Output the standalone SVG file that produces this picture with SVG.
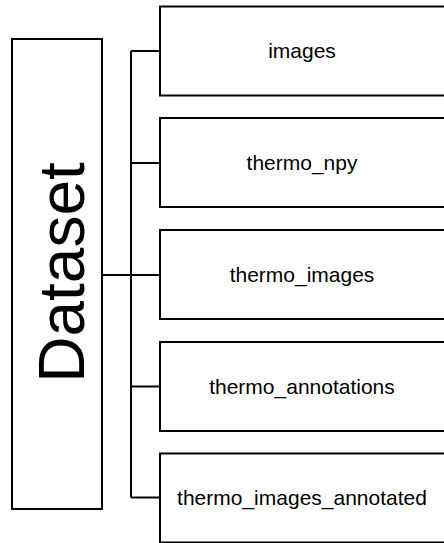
<svg xmlns="http://www.w3.org/2000/svg" width="444" height="543" viewBox="0 0 444 543">
  <style>
    .box { fill: #ffffff; stroke: #000000; stroke-width: 2; }
    .lbl { font-family: "Liberation Sans", Arial, sans-serif; font-size: 21px; fill: #000000; text-anchor: middle; }
    .root { font-family: "Liberation Sans", Arial, sans-serif; font-size: 64px; fill: #000000; text-anchor: middle; }
    .conn { fill: none; stroke: #000000; stroke-width: 2; }
  </style>
  <rect width="444" height="543" fill="#ffffff"/>

  <g id="connectors">
    <path class="conn" d="M102 275 H131"/>
    <path class="conn" d="M131 51 V497.5"/>
    <path class="conn" d="M131 51 H160"/>
    <path class="conn" d="M131 163 H160"/>
    <path class="conn" d="M131 275 H160"/>
    <path class="conn" d="M131 386.5 H160"/>
    <path class="conn" d="M131 497.5 H160"/>
  </g>

  <g id="dataset">
    <rect class="box" x="12" y="39" width="90" height="470"/>
    <text class="root" transform="translate(84 272.5) rotate(-90)" x="0" y="0">Dataset</text>
  </g>

  <g id="images">
    <rect class="box" x="160" y="6.5" width="288" height="89"/>
    <text class="lbl" x="302" y="58">images</text>
  </g>

  <g id="thermo_npy">
    <rect class="box" x="160" y="118" width="288" height="89"/>
    <text class="lbl" x="302" y="169.5">thermo_npy</text>
  </g>

  <g id="thermo_images">
    <rect class="box" x="160" y="230" width="288" height="89"/>
    <text class="lbl" x="302" y="281.5">thermo_images</text>
  </g>

  <g id="thermo_annotations">
    <rect class="box" x="160" y="342" width="288" height="89"/>
    <text class="lbl" x="302" y="393.5">thermo_annotations</text>
  </g>

  <g id="thermo_images_annotated">
    <rect class="box" x="160" y="453.5" width="288" height="89"/>
    <text class="lbl" x="302" y="505">thermo_images_annotated</text>
  </g>
</svg>
